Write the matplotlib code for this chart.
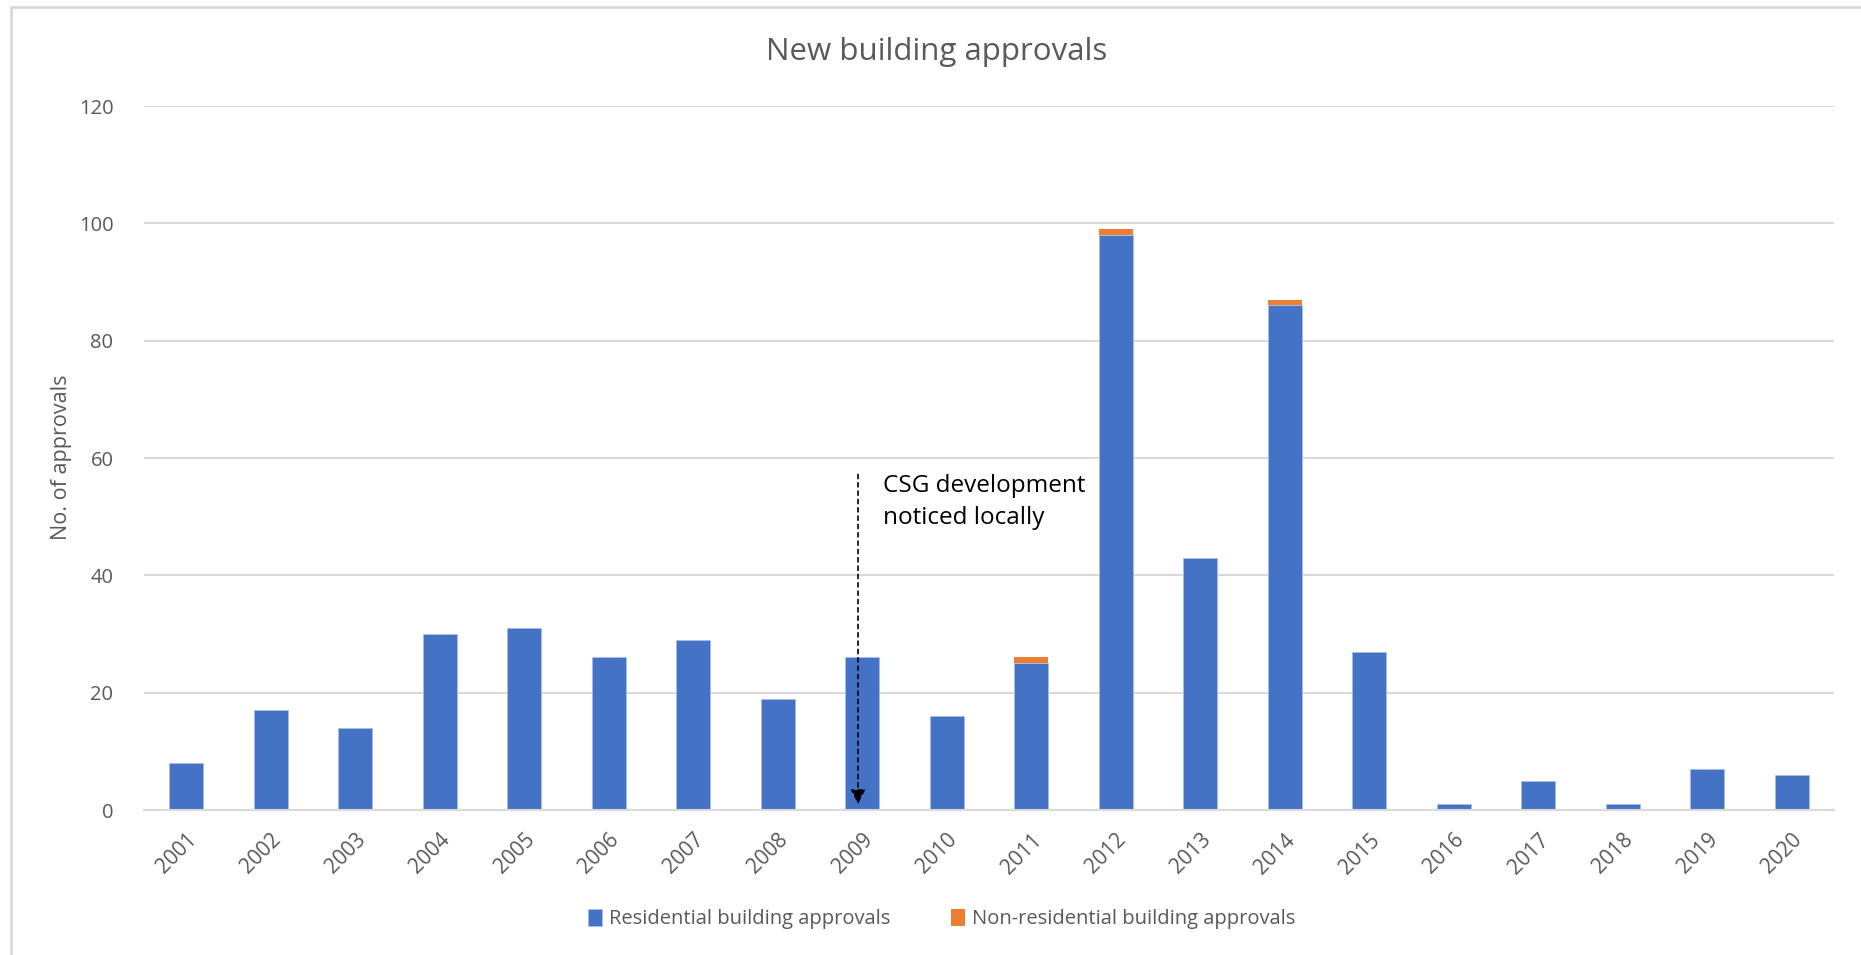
import matplotlib
matplotlib.use("Agg")
import matplotlib.pyplot as plt
import numpy as np

years = [str(y) for y in range(2001, 2021)]
residential = [8, 17, 14, 30, 31, 26, 29, 19, 26, 16, 25, 98, 43, 86, 27, 1, 5, 1, 7, 6]
non_residential = [0, 0, 0, 0, 0, 0, 0, 0, 0, 0, 1, 1, 0, 1, 0, 0, 0, 0, 0, 0]
y_ticks = [0, 20, 40, 60, 80, 100, 120]

title = "New building approvals"
ylabel = "No. of approvals"
series_names = ["Residential building approvals", "Non-residential building approvals"]
annotation_text = "CSG development\nnoticed locally"
annotation_year = "2009"

BLUE = "#4472C4"
ORANGE = "#ED7D31"
GRID = "#D9D9D9"
TXT = "#595959"

plt.rcParams['font.family'] = ['Open Sans', 'DejaVu Sans']

fig = plt.figure(figsize=(18.61, 9.55), dpi=100)
fig.patch.set_facecolor("white")
ax = fig.add_axes([144/1861, 1-810/955, (1834-144)/1861, (810-106)/955])

x = np.arange(len(years))
w = 0.40
ax.bar(x, residential, width=w, color=BLUE, edgecolor="#A9BEE6", linewidth=0.6,
       label=series_names[0], zorder=3)
ax.bar(x, non_residential, width=w, bottom=residential, color=ORANGE,
       edgecolor="none", linewidth=0, label=series_names[1], zorder=3)

ax.set_xlim(-0.5, len(years) - 0.5)
ax.set_ylim(0, 120)
ax.set_yticks(y_ticks)
ax.set_yticklabels([str(v) for v in y_ticks], fontsize=14.5, color=TXT)
ax.set_xticks(x)
ax.set_xticklabels(years, rotation=45, ha="right", rotation_mode="anchor",
                   fontsize=15, color=TXT)
ax.tick_params(axis="both", length=0)
ax.tick_params(axis="y", pad=22)
ax.tick_params(axis="x", pad=14)
ax.yaxis.grid(True, color=GRID, linewidth=1.5, zorder=0)
for s in ["top", "right", "left"]:
    ax.spines[s].set_visible(False)
ax.spines["bottom"].set_color(GRID)
ax.spines["bottom"].set_linewidth(1.5)
ax.spines["bottom"].set_zorder(4)

# annotation
xi = years.index(annotation_year)
ax.annotate("", xy=(xi - 0.05, 1), xytext=(xi - 0.05, 57.2),
            arrowprops=dict(arrowstyle="-|>", linestyle=(0, (2.5, 2.5)), color="black",
                            lw=1.2, mutation_scale=22, shrinkA=0, shrinkB=0),
            zorder=5)
ax.text(xi + 0.24, 57.3, annotation_text, fontsize=17.5, color="black",
        ha="left", va="top", linespacing=1.45, zorder=5)

fig.text(937/1861, 1-52/955, title, fontsize=22.5, color=TXT, ha="center", va="center")
fig.text(62/1861, 1-457/955, ylabel, fontsize=15.5, color=TXT, ha="center",
         va="center", rotation=90)

leg = fig.legend(loc="center", bbox_to_anchor=(942/1861, 1-919/955), ncol=2,
                 frameon=False, fontsize=14.5, handlelength=0.7, handleheight=0.9,
                 handletextpad=0.35, columnspacing=3.0)
for t in leg.get_texts():
    t.set_color(TXT)

# outer chart frame (only top and left visible within the crop)
fig.add_artist(plt.Line2D([11/1861, 11/1861], [0, 1-7/955], transform=fig.transFigure,
                          color=GRID, linewidth=2))
fig.add_artist(plt.Line2D([11/1861, 1], [1-7/955, 1-7/955], transform=fig.transFigure,
                          color=GRID, linewidth=2))

fig.savefig("out.png", dpi=100, facecolor="white")
